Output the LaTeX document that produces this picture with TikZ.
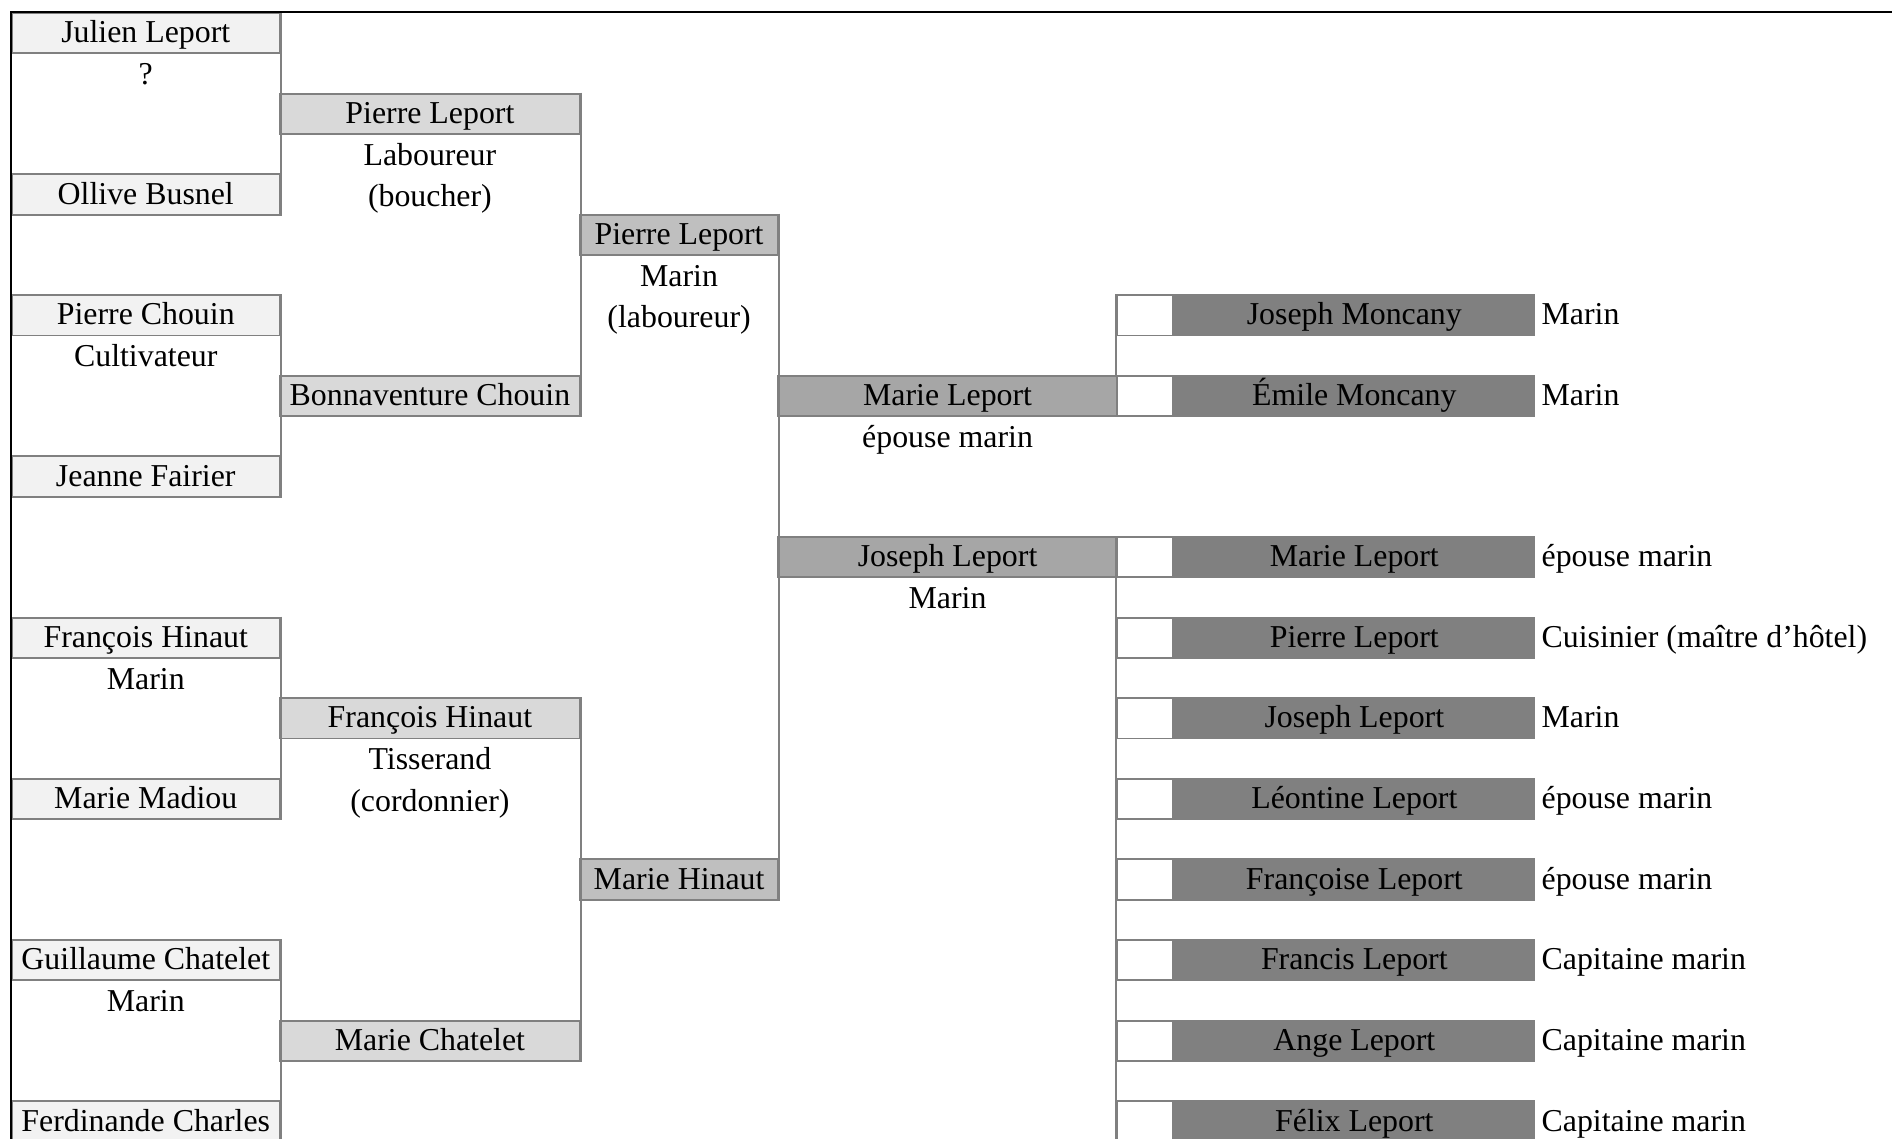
\documentclass[tikz,border=0pt]{standalone}
\usepackage{fontspec}
\setmainfont{Liberation Serif}
\usetikzlibrary{positioning}

\definecolor{gen1}{HTML}{F2F2F2}
\definecolor{gen2}{HTML}{D9D9D9}
\definecolor{gen3}{HTML}{BFBFBF}
\definecolor{gen4}{HTML}{A6A6A6}
\definecolor{gen5}{HTML}{808080}
\definecolor{linegray}{HTML}{808080}

\tikzset{
  cell/.style={inner sep=0pt, minimum height=16.7pt, text height=11pt, text depth=3pt,
    font=\fontsize{13.2}{16}\selectfont},
  person/.style={cell, draw=linegray, line width=0.8pt, anchor=north west},
  gen1box/.style={person, fill=gen1, minimum width=111pt},
  gen2box/.style={person, fill=gen2, minimum width=124.5pt},
  gen3box/.style={person, fill=gen3, minimum width=82pt},
  gen4box/.style={person, fill=gen4, minimum width=140.5pt},
  gen5box/.style={cell, draw=linegray, line width=0.8pt, fill=gen5, minimum width=149pt},
  spot/.style={person, fill=white, minimum width=23pt},
  job/.style={cell},
  link/.style={draw=linegray, line width=0.8pt}
}

\begin{document}
\begin{tikzpicture}[x=0.5pt, y=-16.7pt]
  \useasboundingbox (0,-0.3) rectangle (1568,27.96);

  % grand-parents
  \node[gen1box] (jl) at (9,0)  {Julien Leport};
  \node[job, below=0pt of jl] {?};
  \node[gen1box] (ob) at (9,4)  {Ollive Busnel};
  \node[gen1box] (pc) at (9,7)  {Pierre Chouin};
  \node[job, below=0pt of pc] {Cultivateur};
  \node[gen1box] (jf) at (9,11) {Jeanne Fairier};
  \node[gen1box] (fa) at (9,15) {François Hinaut};
  \node[job, below=0pt of fa] {Marin};
  \node[gen1box] (mm) at (9,19) {Marie Madiou};
  \node[gen1box] (gc) at (9,23) {Guillaume Chatelet};
  \node[job, below=0pt of gc] {Marin};
  \node[gen1box] (fc) at (9,27) {Ferdinande Charles};

  % parents
  \node[gen2box] (pl2) at (231,2)  {Pierre Leport};
  \node[job, below=0pt of pl2] (pl2a) {Laboureur};
  \node[job, below=0pt of pl2a] {(boucher)};
  \node[gen2box] (bc) at (231,9)  {Bonnaventure Chouin};
  \node[gen2box] (fh) at (231,17) {François Hinaut};
  \node[job, below=0pt of fh] (fha) {Tisserand};
  \node[job, below=0pt of fha] {(cordonnier)};
  \node[gen2box] (mc) at (231,25) {Marie Chatelet};

  \node[gen3box] (pl3) at (480,5)  {Pierre Leport};
  \node[job, below=0pt of pl3] (pl3a) {Marin};
  \node[job, below=0pt of pl3a] {(laboureur)};
  \node[gen3box] (mh) at (480,21) {Marie Hinaut};

  % children
  \node[gen4box] (ml) at (644,9)  {Marie Leport};
  \node[job, below=0pt of ml] {épouse marin};
  \node[gen4box] (jo) at (644,13) {Joseph Leport};
  \node[job, below=0pt of jo] {Marin};

  % grand-children
  \node[spot] (mq1) at (925,7) {};
  \node[gen5box, right=0pt of mq1] (mk1) {Joseph Moncany};
  \node[job, right=2.5pt of mk1] {Marin};
  \node[spot] (mq2) at (925,9) {};
  \node[gen5box, right=0pt of mq2] (mk2) {Émile Moncany};
  \node[job, right=2.5pt of mk2] {Marin};

  \foreach \who/\work [count=\i] in {Marie Leport/épouse marin,
      Pierre Leport/Cuisinier (maître d’hôtel), Joseph Leport/Marin,
      Léontine Leport/épouse marin, Françoise Leport/épouse marin,
      Francis Leport/Capitaine marin, Ange Leport/Capitaine marin,
      Félix Leport/Capitaine marin}{
    \node[spot] (lq\i) at (925,11+2*\i) {};
    \node[gen5box, right=0pt of lq\i] (lk\i) {\who};
    \node[job, right=2.5pt of lk\i] {\work};
  }

  % brackets
  \draw[link] (jl.north east) -- (ob.south east);
  \draw[link] (pc.north east) -- (jf.south east);
  \draw[link] (fa.north east) -- (mm.south east);
  \draw[link] (gc.north east) -- (fc.south east);
  \draw[link] (pl2.north east) -- (bc.south east);
  \draw[link] (fh.north east) -- (mc.south east);
  \draw[link] (pl3.north east) -- (mh.south east);
  \draw[link] (mq1.north west) -- (mq2.north west);
  \draw[link] (lq1.north west) -- (lq8.south west);

  % frame
  \draw[line width=1pt] (9,28.3) -- (9,0) -- (1568,0);
\end{tikzpicture}
\end{document}
